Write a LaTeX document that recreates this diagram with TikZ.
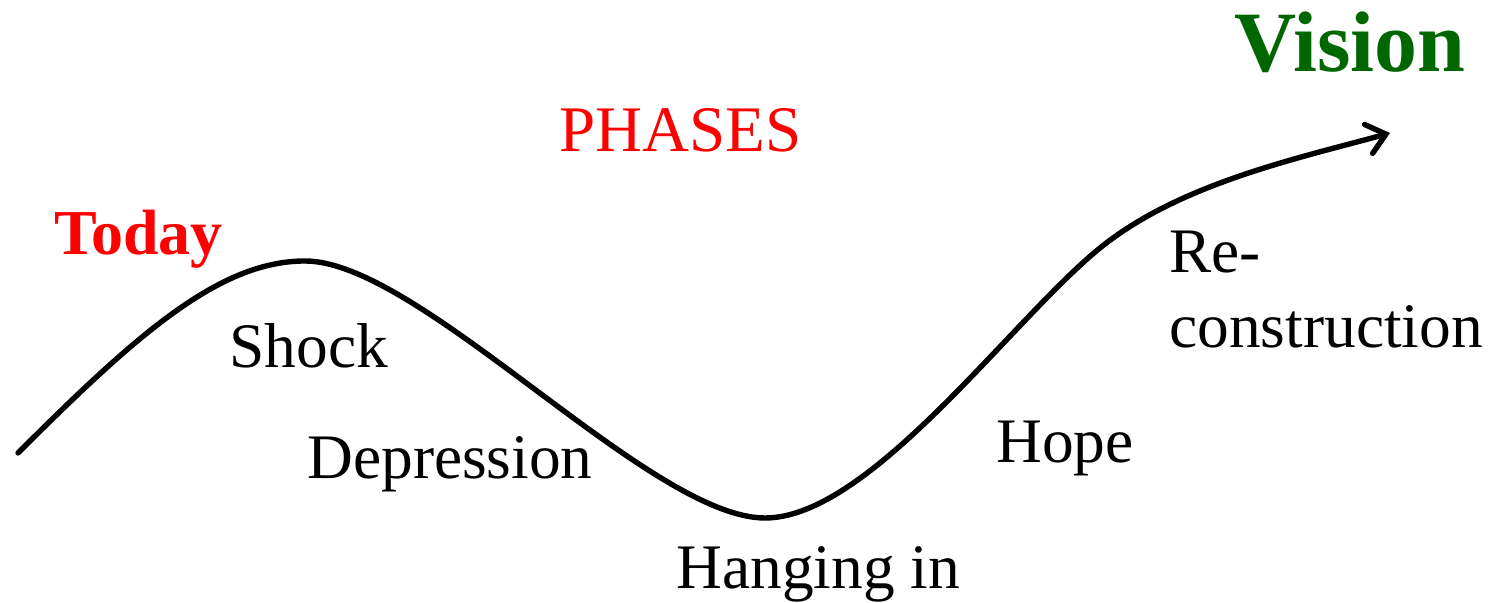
\documentclass[tikz,border=0pt]{standalone}
\usepackage{fontspec}
\setmainfont{Liberation Serif}
\usetikzlibrary{arrows.meta}
\definecolor{visgreen}{RGB}{0,102,0}
\begin{document}
\begin{tikzpicture}[x=0.5pt,y=0.5pt,
  lbl/.style={inner sep=0pt,anchor=base west,font=\fontsize{31.7}{31.7}\selectfont},
  curve/.style={line width=2.7pt,line cap=round,line join=round,-{Straight Barb[length=9pt,width=15pt,line cap=round]}}]
\useasboundingbox (0,0) rectangle (1502,603);
\coordinate (s) at (18,150);
\coordinate (peak) at (305,342);
\coordinate (low) at (765,85);
\coordinate (bend) at (1100,355);
\coordinate (e) at (1390,470);
\draw[curve] (s) .. controls (138,270) and (220,342) .. (peak)
  .. controls (420,342) and (650,85) .. (low)
  .. controls (870,85) and (1012,284) .. (bend)
  .. controls (1180,420) and (1300,445) .. (e);
\node[lbl,font=\fontsize{43}{43}\selectfont\bfseries,text=visgreen] (vision) at (1234,531) {Vision};
\node[lbl,text=red,font=\fontsize{32.5}{32.5}\selectfont] (phases) at (559,451) {PHASES};
\node[lbl,text=red,font=\fontsize{32}{32}\selectfont\bfseries] (today) at (54,348) {Today};
\node[lbl] (shock) at (229,235) {Shock};
\node[lbl] (dep) at (307,124) {Depression};
\node[lbl] (hang) at (676,14) {Hanging in};
\node[lbl] (hope) at (996,140) {Hope};
\node[lbl] (re) at (1169,330) {Re-};
\node[lbl] (con) at (1169,255) {construction};
\end{tikzpicture}
\end{document}
